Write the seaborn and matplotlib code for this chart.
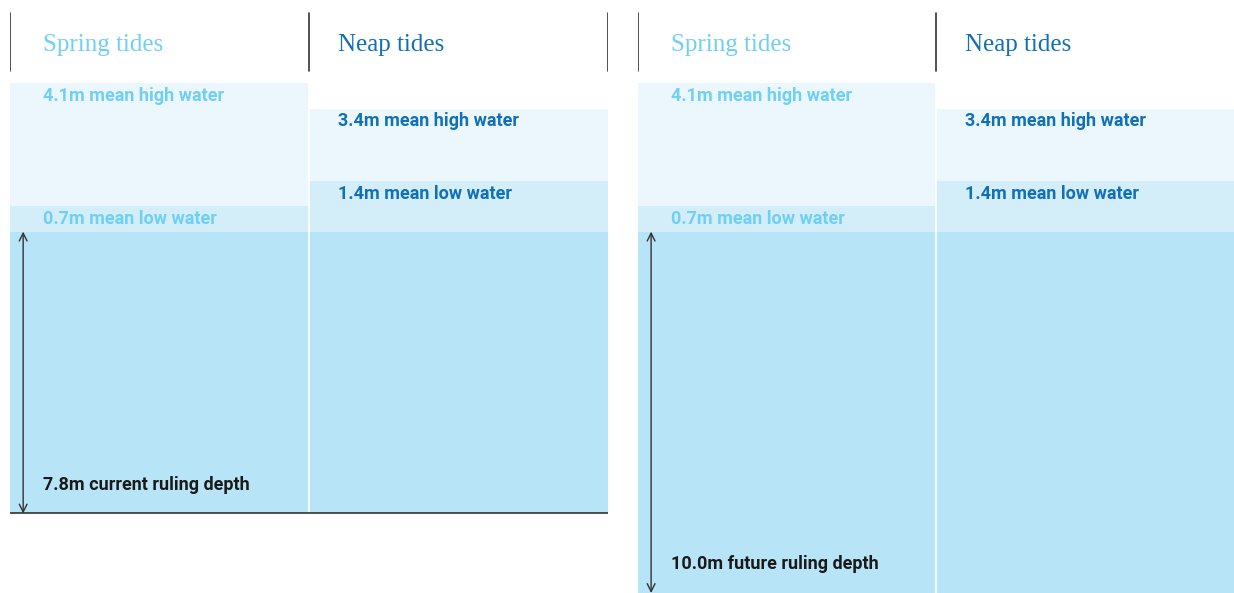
import matplotlib
matplotlib.use('Agg')
import matplotlib.pyplot as plt
import seaborn as sns

# data
tides = ["Spring tides", "Neap tides"]
mean_high = [4.1, 3.4]
mean_low = [0.7, 1.4]
ruling_depth = [7.8, 10.0]
depth_labels = ["7.8m current ruling depth", "10.0m future ruling depth"]

high_labels = [f"{v}m mean high water" for v in mean_high]
low_labels = [f"{v}m mean low water" for v in mean_low]

# styling
C_HIGH = "#ecf7fd"
C_LOW = "#d3edf9"
C_DEEP = "#b8e4f8"
TEXT_COLS = ["#6fcff5", "#1170b6"]
LINE = "#333333"

sns.set_theme(style="white")
plt.rcParams['font.family'] = ['Roboto', 'DejaVu Sans']

W, H = 1234, 593
fig = plt.figure(figsize=(W / 100, H / 100), dpi=100)

Y_TOP = 6.41
Y_BOT = -10.0
HEAD_TOP, HEAD_BOT = 6.05, 4.45

panel_px = [(10, 598), (638, 596)]


def draw_panel(ax, depth, depth_label, right_edge):
    sns.barplot(x=tides, y=mean_high, color=C_HIGH, width=1, saturation=1,
                linewidth=0, ax=ax)
    sns.barplot(x=tides, y=mean_low, color=C_LOW, width=1, saturation=1,
                linewidth=0, ax=ax)
    sns.barplot(x=tides, y=[-depth] * len(tides), color=C_DEEP, width=1,
                saturation=1, linewidth=0, ax=ax)
    ax.set_xlim(-0.5, 1.5)
    ax.set_ylim(Y_BOT, Y_TOP)
    ax.set_axis_off()

    # white separator between columns
    ax.plot([0.5, 0.5], [-depth, max(mean_high)], color="white", lw=1.2, zorder=3)

    # header lines
    xs = [-0.5, 0.5, 1.5] if right_edge else [-0.5, 0.5]
    for x in xs:
        ax.plot([x, x], [HEAD_BOT, HEAD_TOP], color=LINE, lw=1.2, zorder=4)

    offs = [0.11, 0.097]
    for i, name in enumerate(tides):
        x0 = i - 0.5 + offs[i]
        ax.text(x0, 5.16, name, family='Liberation Serif', fontsize=18,
                color=TEXT_COLS[i], va='center', ha='left')
        ax.text(x0, mean_high[i] - 0.1, high_labels[i], fontsize=13,
                fontweight='bold', color=TEXT_COLS[i], va='top', ha='left')
        ax.text(x0, mean_low[i] - 0.1, low_labels[i], fontsize=13,
                fontweight='bold', color=TEXT_COLS[i], va='top', ha='left')

    # depth arrow and label
    ax.annotate("", xy=(-0.5 + 0.044, -depth), xytext=(-0.5 + 0.044, 0),
                arrowprops=dict(arrowstyle="<->", color=LINE, lw=1,
                                shrinkA=0, shrinkB=0, mutation_scale=14),
                zorder=5)
    ax.text(-0.5 + 0.11, -depth + 0.8, depth_label, fontsize=13,
            fontweight='bold', color="#1a1a1a", va='center', ha='left')

    if right_edge:
        ax.plot([-0.5, 1.5], [-depth, -depth], color=LINE, lw=1.2, zorder=4)


for i, (x0, w) in enumerate(panel_px):
    ax = fig.add_axes([x0 / W, 0, w / W, 1])
    draw_panel(ax, ruling_depth[i], depth_labels[i], right_edge=(i == 0))

fig.savefig("out.png", dpi=100)
